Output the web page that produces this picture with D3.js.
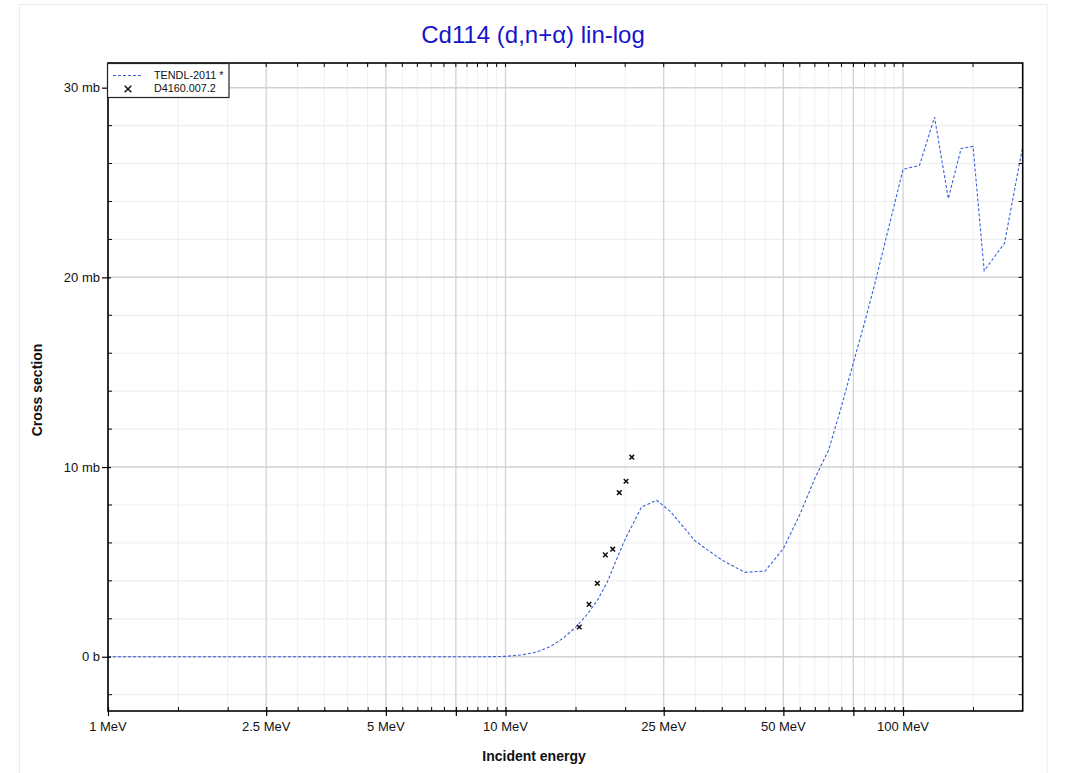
<!DOCTYPE html>
<html>
<head>
<meta charset="utf-8">
<script src="https://cdn.jsdelivr.net/npm/d3@7"></script>
<style>
  html, body { margin: 0; padding: 0; background: #fff; }
  svg { display: block; font-family: "Liberation Sans", Arial, sans-serif; }
</style>
</head>
<body>
<svg id="chart" width="1071" height="773"></svg>
<script>
// ---- data ----
const tendlE  = [1,2,3,4,5,6,7,8,9,10,11,12,13,14,15,16,17,18,19,20,22,24,26,28,30,35,40,45,50,55,60,65,70,75,80,85,90,95,100,110,120,130,140,150,160,180,200];
const tendlXS = [0,0,0,0,0,0,0,0,0,0.02,0.1,0.25,0.55,1.0,1.55,2.2,2.95,3.9,5.1,6.2,7.9,8.25,7.65,6.85,6.1,5.1,4.45,4.52,5.7,7.5,9.4,10.9,13.2,15.5,17.6,19.7,21.8,23.8,25.7,25.9,28.45,24.15,26.8,26.9,20.35,21.8,26.9];
const expE  = [15.33,16.22,17.02,17.83,18.61,19.33,20.1,20.78];
const expXS = [1.57,2.76,3.87,5.37,5.67,8.65,9.25,10.52];

const xLabelTicks = [1,2.5,5,10,25,50,100];
const xLabels = ["1 MeV","2.5 MeV","5 MeV","10 MeV","25 MeV","50 MeV","100 MeV"];
const xMajorTicks = [1,2.5,5,7.5,10,25,50,75,100];
const xMinorTicks = [1.5,2,3,3.5,4,4.5,5.5,6,6.5,7,8,8.5,9,9.5,15,20,30,35,40,45,55,60,65,70,80,85,90,95,150];
const yLabelTicks = [0,10,20,30];
const yLabels = ["0 b","10 mb","20 mb","30 mb"];
const yMinorTicks = [-2,2,4,6,8,12,14,16,18,22,24,26,28];

const titleText = "Cd114 (d,n+\u03b1) lin-log";
const legendNames = ["TENDL-2011 *", "D4160.007.2"];

// ---- layout ----
const L = 108, R = 1022.7, T = 63, B = 711;
const svg = d3.select("#chart");

// outer frame
svg.append("rect").attr("x",19.5).attr("y",4.5).attr("width",1027.5).attr("height",800)
  .attr("fill","none").attr("stroke","#ececec").attr("stroke-width",1);

const x = d3.scaleLog().domain([1,200]).range([L,R]);
const y = d3.scaleLinear().domain([-2.86,31.3]).range([B,T]);

const grid = svg.append("g");
// minor grid
grid.selectAll("line.xmin").data(xMinorTicks).join("line")
  .attr("x1",d=>x(d)).attr("x2",d=>x(d)).attr("y1",T).attr("y2",B)
  .attr("stroke","#efefef").attr("stroke-width",1);
grid.selectAll("line.ymin").data(yMinorTicks).join("line")
  .attr("class","ymin")
  .attr("x1",L).attr("x2",R).attr("y1",d=>y(d)).attr("y2",d=>y(d))
  .attr("stroke","#efefef").attr("stroke-width",1.2);
// major grid
grid.selectAll("line.xmaj").data(xMajorTicks).join("line")
  .attr("class","xmaj")
  .attr("x1",d=>x(d)).attr("x2",d=>x(d)).attr("y1",T).attr("y2",B)
  .attr("stroke","#d2d2d2").attr("stroke-width",1.3);
grid.selectAll("line.ymaj").data(yLabelTicks).join("line")
  .attr("class","ymaj")
  .attr("x1",L).attr("x2",R).attr("y1",d=>y(d)).attr("y2",d=>y(d))
  .attr("stroke","#d2d2d2").attr("stroke-width",1.5);

// ---- curve ----
const tendl = tendlE.map((e,i)=>({e, v: tendlXS[i]}));
const line = d3.line().x(d=>x(d.e)).y(d=>y(d.v));
svg.append("path").datum(tendl).attr("d",line)
  .attr("fill","none").attr("stroke","#3b62dd").attr("stroke-width",1.1)
  .attr("stroke-dasharray","3,2");

// ---- experimental points ----
const exp = expE.map((e,i)=>({e, v: expXS[i]}));
const cross = (g, s) => g.append("path")
  .attr("d",`M${-s},${-s}L${s},${s}M${-s},${s}L${s},${-s}`)
  .attr("stroke","#111").attr("stroke-width",1.5).attr("fill","none");
exp.forEach(d=>{
  const g = svg.append("g").attr("transform",`translate(${x(d.e)},${y(d.v)})`);
  cross(g, 2.3);
});

// ---- axes ----
const axB = svg.append("g").attr("transform",`translate(0,${B})`)
  .call(d3.axisBottom(x).tickValues(xMajorTicks).tickSize(5).tickFormat(""));
axB.select(".domain").remove();
axB.selectAll(".tick line").attr("y1",-4).attr("y2",5).attr("stroke","#000").attr("stroke-width",1.2);
const axBm = svg.append("g").attr("transform",`translate(0,${B})`)
  .call(d3.axisBottom(x).tickValues(xMinorTicks).tickSize(0).tickFormat(""));
axBm.select(".domain").remove();
axBm.selectAll(".tick line").attr("y1",-4).attr("y2",0).attr("stroke","#000").attr("stroke-width",1);
// bottom labels
svg.append("g").selectAll("text").data(xLabelTicks).join("text")
  .attr("x",d=>x(d)).attr("y",731).attr("text-anchor","middle")
  .attr("font-size","13px").attr("fill","#111").text((d,i)=>xLabels[i]);

// top ticks (inward)
svg.append("g").selectAll("line").data(xMajorTicks.concat(xMinorTicks)).join("line")
  .attr("x1",d=>x(d)).attr("x2",d=>x(d)).attr("y1",T).attr("y2",T+4)
  .attr("stroke","#000").attr("stroke-width",1);

// left axis
const axL = svg.append("g").attr("transform",`translate(${L},0)`)
  .call(d3.axisLeft(y).tickValues(yLabelTicks).tickSize(5).tickPadding(2).tickFormat((d,i)=>yLabels[i]));
axL.select(".domain").remove();
axL.selectAll(".tick line").attr("x1",-6).attr("x2",3).attr("stroke","#000").attr("stroke-width",1.2);
axL.selectAll(".tick text").attr("font-size","13px").attr("font-family","'Liberation Sans', Arial, sans-serif").attr("fill","#111").attr("x",-8);
svg.append("g").selectAll("line").data(yMinorTicks).join("line")
  .attr("x1",L).attr("x2",L+4).attr("y1",d=>y(d)).attr("y2",d=>y(d))
  .attr("stroke","#000").attr("stroke-width",1);
// right ticks (inward)
svg.append("g").selectAll("line").data(yLabelTicks.concat(yMinorTicks)).join("line")
  .attr("x1",R-4).attr("x2",R).attr("y1",d=>y(d)).attr("y2",d=>y(d))
  .attr("stroke","#000").attr("stroke-width",1);

// plot border
svg.append("rect").attr("x",L).attr("y",T).attr("width",R-L).attr("height",B-T)
  .attr("fill","none").attr("stroke","#000").attr("stroke-width",1.6);

// ---- legend ----
const lg = svg.append("g");
lg.append("rect").attr("x",107.5).attr("y",63.5).attr("width",121.5).attr("height",34)
  .attr("fill","#fff").attr("stroke","#222").attr("stroke-width",1.2);
lg.append("line").attr("x1",113).attr("x2",143).attr("y1",75.5).attr("y2",75.5)
  .attr("stroke","#3b62dd").attr("stroke-width",1).attr("stroke-dasharray","3,2");
cross(lg.append("g").attr("transform","translate(128,89)"), 3.3);
lg.selectAll("text").data(legendNames).join("text")
  .attr("x",154).attr("y",(d,i)=>79 + i*13)
  .attr("font-size","10.8px").attr("fill","#111").text(d=>d);

// ---- titles ----
svg.append("text").attr("x",533).attr("y",43).attr("text-anchor","middle")
  .attr("font-size","24px").attr("fill","#1515cc").text(titleText);
svg.append("text").attr("x",534).attr("y",761).attr("text-anchor","middle")
  .attr("font-size","14px").attr("font-weight","bold").attr("fill","#111").text("Incident energy");
svg.append("text").attr("transform","translate(42,390) rotate(-90)").attr("text-anchor","middle")
  .attr("font-size","14px").attr("font-weight","bold").attr("fill","#111").text("Cross section");
</script>
</body>
</html>
